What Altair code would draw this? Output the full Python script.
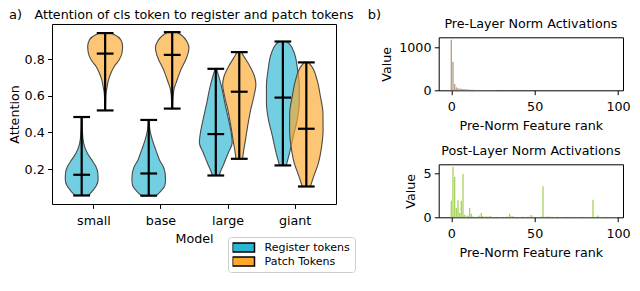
import altair as alt
import pandas as pd

FONT = "DejaVu Sans"
FS = 12.7

# ---------------- panel a) data ----------------
models = ["small", "base", "large", "giant"]
tokens = ["Register tokens", "Patch Tokens"]
token_colors = ["#29b6d1", "#fca82c"]
token_offset = [-0.175, 0.175]

# violin outlines: attention level and half width (model units)
reg_levels = [
    [0.056, 0.08, 0.11, 0.145, 0.18, 0.215, 0.25, 0.29, 0.34, 0.40, 0.484],
    [0.055, 0.08, 0.11, 0.14, 0.175, 0.21, 0.25, 0.29, 0.33, 0.37, 0.42, 0.468],
    [0.165, 0.187, 0.233, 0.288, 0.343, 0.397, 0.47, 0.56, 0.65, 0.723, 0.747],
    [0.22, 0.233, 0.288, 0.379, 0.47, 0.56, 0.651, 0.742, 0.833, 0.878, 0.896],
]
reg_half_width = [
    [0.10, 0.16, 0.22, 0.245, 0.24, 0.21, 0.15, 0.08, 0.03, 0.012, 0.006],
    [0.11, 0.18, 0.24, 0.25, 0.245, 0.22, 0.16, 0.12, 0.08, 0.045, 0.015, 0.006],
    [0.05, 0.07, 0.125, 0.185, 0.245, 0.23, 0.19, 0.135, 0.085, 0.03, 0.01],
    [0.05, 0.06, 0.10, 0.155, 0.215, 0.245, 0.245, 0.22, 0.17, 0.11, 0.06],
]
patch_levels = [
    [0.52, 0.58, 0.62, 0.65, 0.687, 0.723, 0.76, 0.796, 0.832, 0.87, 0.906, 0.933, 0.942],
    [0.53, 0.58, 0.605, 0.641, 0.678, 0.714, 0.751, 0.787, 0.823, 0.86, 0.896, 0.93, 0.947],
    [0.256, 0.287, 0.342, 0.432, 0.523, 0.596, 0.66, 0.705, 0.76, 0.814, 0.838],
    [0.105, 0.16, 0.233, 0.324, 0.415, 0.505, 0.596, 0.687, 0.76, 0.782],
]
patch_half_width = [
    [0.006, 0.008, 0.015, 0.03, 0.05, 0.085, 0.135, 0.21, 0.25, 0.26, 0.233, 0.14, 0.08],
    [0.006, 0.01, 0.015, 0.03, 0.065, 0.10, 0.14, 0.19, 0.23, 0.25, 0.22, 0.14, 0.07],
    [0.05, 0.06, 0.085, 0.124, 0.17, 0.218, 0.248, 0.228, 0.16, 0.07, 0.03],
    [0.06, 0.11, 0.18, 0.228, 0.25, 0.248, 0.21, 0.16, 0.08, 0.03],
]
# [register, patch] per model
att_min = [[0.056, 0.52], [0.055, 0.53], [0.165, 0.256], [0.22, 0.105]]
att_median = [[0.169, 0.830], [0.176, 0.823], [0.391, 0.622], [0.59, 0.42]]
att_max = [[0.484, 0.942], [0.468, 0.947], [0.747, 0.838], [0.896, 0.782]]

# ---------------- panel b) data ----------------
feature_rank = list(range(100))
pre_norm_value = [
    1185, 670, 150, 70, 50, 40, 35, 30, 25, 22,
    18, 15, 13, 11, 10, 9, 8, 8, 7, 7,
    6, 6, 6, 5, 5, 5, 5, 4, 4, 4,
    4, 4, 4, 3, 3, 3, 3, 3, 3, 3,
    3, 3, 3, 3, 3, 3, 2, 2, 2, 2,
    2, 2, 2, 2, 2, 2, 2, 2, 2, 2,
    2, 2, 2, 2, 2, 2, 2, 2, 2, 2,
    2, 2, 2, 2, 2, 2, 2, 2, 2, 2,
    2, 2, 2, 2, 2, 2, 2, 2, 2, 2,
    2, 2, 2, 2, 2, 2, 2, 2, 2, 2,
]
post_norm_value = [
    1.9, 5.76, 4.6, 1.05, 1.95, 0.5, 1.9, 4.95, 0.3, 0.1,
    0.2, 1.05, 0.4, 0.1, 0.05, 0.05, 0.08, 0.2, 0.5, 0.15,
    0.05, 0.12, 0.05, 0.15, 0.05, 0.04, 0.03, 0.05, 0.03, 0.04,
    0.03, 0.04, 0.03, 0.05, 0.06, 0.4, 0.08, 0.12, 0.05, 0.04,
    0.03, 0.04, 0.03, 0.05, 0.04, 0.03, 0.05, 0.06, 0.25, 0.05,
    0.03, 0.04, 0.03, 0.05, 0.06, 3.55, 0.05, 0.06, 0.1, 0.05,
    0.06, 0.03, 0.04, 0.03, 0.05, 0.04, 0.03, 0.04, 0.03, 0.05,
    0.04, 0.03, 0.04, 0.05, 0.04, 0.03, 0.04, 0.03, 0.05, 0.04,
    0.03, 0.04, 0.03, 0.05, 0.04, 2.0, 0.04, 0.05, 0.2, 0.05,
    0.03, 0.04, 0.03, 0.05, 0.04, 0.03, 0.04, 0.03, 0.04, 0.03,
]

title_a = "Attention of cls token to register and patch tokens"
title_b1 = "Pre-Layer Norm Activations"
title_b2 = "Post-Layer Norm Activations"
panel_labels = ["a)", "b)"]

# ---------------- tables ----------------
rows = []
stat_rows = []
for t, (levels, widths) in enumerate([(reg_levels, reg_half_width), (patch_levels, patch_half_width)]):
    for m in range(len(models)):
        pos = m + token_offset[t]
        for v, w in zip(levels[m], widths[m]):
            rows.append({"token": tokens[t], "vid": f"{m}-{t}", "pos": pos, "att": v, "hw": w})
        stat_rows.append({"token": tokens[t], "pos": pos, "amin": att_min[m][t],
                          "amed": att_median[m][t], "amax": att_max[m][t]})
violin_df = pd.DataFrame(rows)
stats_df = pd.DataFrame(stat_rows)
pre_df = pd.DataFrame({"rank": feature_rank, "value": pre_norm_value})
post_df = pd.DataFrame({"rank": feature_rank, "value": post_norm_value})


def text_layer(txt, x, y, size=FS, align="center"):
    return alt.Chart(pd.DataFrame({"label": [txt]})).mark_text(
        align=align, baseline="alphabetic", font=FONT, fontSize=size, color="black"
    ).encode(text="label:N", x=alt.value(x), y=alt.value(y))


# ---------------- panel a) ----------------
xs = alt.Scale(domain=[-0.6175, 3.6175], nice=False, zero=False)
ys = alt.Scale(domain=[0.0095, 0.9915], nice=False, zero=False)
label_expr = "[" + ",".join(f"'{m}'" for m in models) + "][datum.value]"
x_axis = alt.Axis(values=[0, 1, 2, 3], labelExpr=label_expr, title="Model")
y_axis = alt.Axis(values=[0.2, 0.4, 0.6, 0.8], format=".1f", title="Attention", titlePadding=2.4)

color = alt.Color(
    "token:N",
    scale=alt.Scale(domain=tokens, range=token_colors),
    legend=alt.Legend(
        title=None, orient="none", legendX=176, legendY=213, direction="vertical",
        symbolType="M-1.2,-0.9H3.2V0.9H-1.2Z", symbolSize=100,
        symbolStrokeColor="black", symbolStrokeWidth=1.5, symbolOpacity=1,
        labelFont=FONT, labelFontSize=11, labelColor="black", labelOffset=20,
        clipHeight=12, rowPadding=2, padding=4.5, strokeColor="#cccccc",
        fillColor="white", cornerRadius=3,
    ),
)


def violin_layer(tok):
    return (
        alt.Chart(violin_df)
        .transform_filter(alt.datum.token == tok)
        .transform_calculate(lo="datum.pos - datum.hw", hi="datum.pos + datum.hw")
        .mark_area(orient="horizontal", interpolate="monotone", stroke="#4a4a4a",
                   strokeWidth=1.1, fillOpacity=0.66)
        .encode(
            y=alt.Y("att:Q", scale=ys, axis=y_axis),
            x=alt.X("lo:Q", scale=xs, axis=x_axis),
            x2="hi:Q",
            detail="vid:N",
            color=color,
        )
    )


whisker = alt.Chart(stats_df).mark_rule(color="black", strokeWidth=2.2).encode(
    x=alt.X("pos:Q", scale=xs, axis=x_axis),
    y=alt.Y("amin:Q", scale=ys, axis=y_axis),
    y2="amax:Q",
)
caps = (
    alt.Chart(stats_df)
    .transform_fold(["amin", "amed", "amax"], as_=["stat", "val"])
    .transform_calculate(c0="datum.pos - 0.125", c1="datum.pos + 0.125")
    .mark_rule(color="black", strokeWidth=2.2)
    .encode(
        x=alt.X("c0:Q", scale=xs, axis=x_axis),
        x2="c1:Q",
        y=alt.Y("val:Q", scale=ys, axis=y_axis),
    )
)

left = alt.layer(
    violin_layer(tokens[0]), violin_layer(tokens[1]), whisker, caps,
    text_layer(panel_labels[0], -43, -4.7, size=13, align="left"),
    text_layer(title_a, 142, -5),
).properties(width=284, height=180)

# ---------------- panel b) ----------------
bxs = alt.Scale(domain=[-7.56, 103], nice=False, zero=False)
bx_axis = alt.Axis(values=[0, 50, 100], title="Pre-Norm Feature rank")


def bar_panel(df, col, ymax, yticks, title):
    bars = (
        alt.Chart(df)
        .transform_calculate(x0="datum.rank - 0.4", x1="datum.rank + 0.4", base="0")
        .mark_rect(color=col)
        .encode(
            x=alt.X("x0:Q", scale=bxs, axis=bx_axis),
            x2="x1:Q",
            y=alt.Y("value:Q", scale=alt.Scale(domain=[0, ymax], nice=False),
                    axis=alt.Axis(values=yticks, format="d", title="Value")),
            y2="base:Q",
        )
    )
    return alt.layer(bars, text_layer(title, 92.15, -9.7)).properties(width=184.3, height=53)


top = bar_panel(pre_df, "#b49f8a", 1244, [0, 1000], title_b1)
bot = bar_panel(post_df, "#a8d35f", 6.05, [0, 5], title_b2)

spacer_b = text_layer(panel_labels[1], -71, -4.7, size=13, align="left").properties(
    width=184.3, height=1, view=alt.ViewBackground(stroke="transparent")
)

right = alt.vconcat(
    spacer_b,
    alt.vconcat(top, bot, spacing=74, bounds="flush"),
    spacing=12.3, bounds="flush",
)

chart = (
    alt.hconcat(left, right, spacing=102.7, bounds="flush")
    .properties(padding=0, background="white")
    .configure(font=FONT)
    .configure_view(stroke="black", strokeWidth=1)
    .configure_axis(
        labelFont=FONT, labelFontSize=FS, labelColor="black",
        titleFont=FONT, titleFontSize=FS, titleFontWeight="normal", titleColor="black",
        tickColor="black", tickSize=4.4, tickWidth=1, domain=False, grid=False,
        labelFlush=False,
    )
    .configure_axisX(labelPadding=6.2, titlePadding=5.5)
    .configure_axisY(labelPadding=3.3, titlePadding=5)
    .configure_legend(labelFontSize=11, labelFont=FONT)
)

chart.save("out.html", embed_options={"renderer": "svg", "actions": False})
